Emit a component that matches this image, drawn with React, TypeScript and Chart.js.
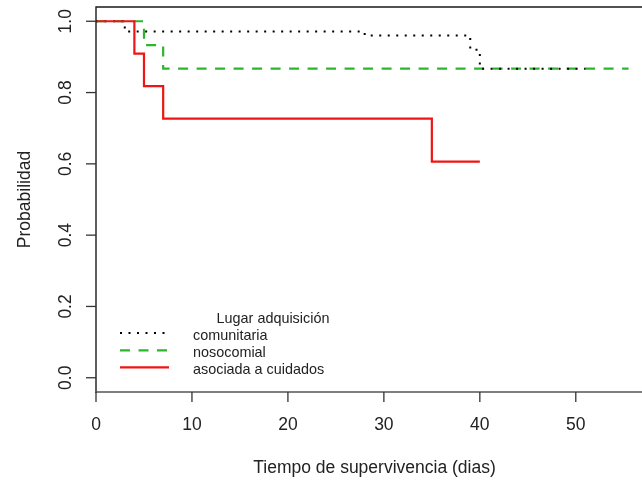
import React, { useEffect, useRef } from "react";
import { Chart, registerables } from "chart.js";

Chart.register(...registerables);

// ---- Data ----
const SERIES_LABELS = ["comunitaria", "nosocomial", "asociada a cuidados"];
const comunitariaTimes = [0, 3, 28, 39, 40, 51];
const comunitariaSurv = [1, 0.971, 0.96, 0.92, 0.867, 0.867];
const nosocomialTimes = [0, 5, 7, 55.5];
const nosocomialSurv = [1, 0.933, 0.867, 0.867];
const asociadaTimes = [0, 4, 5, 7, 35, 40];
const asociadaSurv = [1, 0.909, 0.818, 0.727, 0.606, 0.606];

const X_TICKS = [0, 10, 20, 30, 40, 50];
const X_TICK_LABELS = ["0", "10", "20", "30", "40", "50"];
const Y_TICKS = [0, 0.2, 0.4, 0.6, 0.8, 1.0];
const Y_TICK_LABELS = ["0.0", "0.2", "0.4", "0.6", "0.8", "1.0"];
const X_TITLE = "Tiempo de supervivencia (dias)";
const Y_TITLE = "Probabilidad";
const LEGEND_TITLE = "Lugar adquisición";

const FONT = "'Liberation Sans', Arial, sans-serif";

const toPoints = (t: number[], s: number[]) => t.map((v, i) => ({ x: v, y: s[i] }));

const rAxesPlugin = {
  id: "rAxes",
  afterDraw(chart: any) {
    const { ctx, chartArea: a, scales } = chart;
    const xs = scales.x;
    const ys = scales.y;
    ctx.save();

    // frame: left + top (black), bottom (grey)
    ctx.lineWidth = 1.4;
    ctx.strokeStyle = "#1a1a1a";
    ctx.beginPath();
    ctx.moveTo(a.left, a.bottom + 1);
    ctx.lineTo(a.left, a.top);
    ctx.lineTo(a.right + 2, a.top);
    ctx.stroke();
    ctx.strokeStyle = "#555";
    ctx.beginPath();
    ctx.moveTo(a.left, a.bottom);
    ctx.lineTo(a.right + 2, a.bottom);
    ctx.stroke();

    // y ticks + rotated labels
    ctx.strokeStyle = "#333";
    ctx.lineWidth = 1.3;
    ctx.fillStyle = "#222";
    ctx.font = `17.5px ${FONT}`;
    Y_TICKS.forEach((v, i) => {
      const y = ys.getPixelForValue(v);
      ctx.beginPath();
      ctx.moveTo(a.left - 10, y);
      ctx.lineTo(a.left, y);
      ctx.stroke();
      ctx.save();
      ctx.translate(71, y);
      ctx.rotate(-Math.PI / 2);
      ctx.textAlign = "center";
      ctx.textBaseline = "alphabetic";
      ctx.fillText(Y_TICK_LABELS[i], 0, 0);
      ctx.restore();
    });

    // x ticks + labels
    X_TICKS.forEach((v, i) => {
      const x = xs.getPixelForValue(v);
      ctx.beginPath();
      ctx.moveTo(x, a.bottom);
      ctx.lineTo(x, a.bottom + 10);
      ctx.stroke();
      ctx.textAlign = "center";
      ctx.textBaseline = "alphabetic";
      ctx.fillText(X_TICK_LABELS[i], x, 430);
    });

    // axis titles
    ctx.textAlign = "center";
    ctx.fillText(X_TITLE, 374.5, 473);
    ctx.save();
    ctx.translate(30, (a.top + a.bottom) / 2);
    ctx.rotate(-Math.PI / 2);
    ctx.textAlign = "center";
    ctx.fillText(Y_TITLE, 0, 0);
    ctx.restore();

    // legend
    ctx.font = `14.4px ${FONT}`;
    ctx.textAlign = "center";
    ctx.fillText(LEGEND_TITLE, 273, 322.5);
    const baselines = [340, 357.3, 374.3];
    SERIES_LABELS.forEach((lab, i) => {
      const ds = chart.data.datasets.find((d: any) => d.label === lab);
      const ly = baselines[i] - 7;
      ctx.save();
      ctx.strokeStyle = ds.borderColor;
      ctx.lineWidth = ds.borderWidth;
      ctx.setLineDash(ds.borderDash || []);
      ctx.beginPath();
      ctx.moveTo(120, ly);
      ctx.lineTo(169, ly);
      ctx.stroke();
      ctx.restore();
      ctx.textAlign = "left";
      ctx.fillStyle = "#222";
      ctx.fillText(lab, 193, baselines[i]);
    });

    ctx.restore();
  },
};

export default function App() {
  const canvasRef = useRef<HTMLCanvasElement | null>(null);

  useEffect(() => {
    document.body.style.margin = "0";
    document.body.style.overflow = "hidden";
    const canvas = canvasRef.current;
    if (!canvas) return;
    const chart = new Chart(canvas, {
      type: "line",
      data: {
        datasets: [
          {
            label: SERIES_LABELS[0],
            data: toPoints(comunitariaTimes, comunitariaSurv),
            borderColor: "#000000",
            borderWidth: 2,
            borderDash: [2, 6.5],
            stepped: true,
            fill: false,
            pointRadius: 0,
            order: 1,
          },
          {
            label: SERIES_LABELS[1],
            data: toPoints(nosocomialTimes, nosocomialSurv),
            borderColor: "#2eb52e",
            borderWidth: 2.2,
            borderDash: [10, 8.5],
            stepped: true,
            fill: false,
            pointRadius: 0,
            order: 2,
          },
          {
            label: SERIES_LABELS[2],
            data: toPoints(asociadaTimes, asociadaSurv),
            borderColor: "#f01515",
            borderWidth: 2.2,
            stepped: true,
            fill: false,
            pointRadius: 0,
            order: 0,
          },
        ],
      },
      options: {
        animation: false,
        responsive: false,
        layout: { padding: { left: 96, top: 7, right: 0, bottom: 90 } },
        plugins: { legend: { display: false }, tooltip: { enabled: false } },
        scales: {
          x: { type: "linear", min: 0, max: 56.9, display: false },
          y: { type: "linear", min: -0.04, max: 1.04, display: false },
        },
        elements: { point: { radius: 0 } },
      },
      plugins: [rAxesPlugin],
    } as any);
    return () => chart.destroy();
  }, []);

  return (
    <div style={{ width: 642, height: 482 }}>
      <canvas ref={canvasRef} width={642} height={482} style={{ display: "block" }} />
    </div>
  );
}
